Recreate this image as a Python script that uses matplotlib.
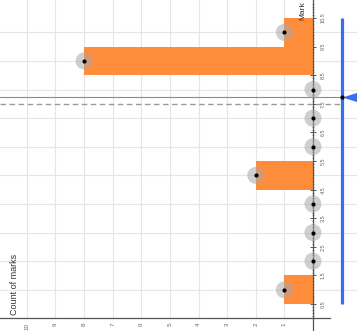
import numpy as np
import matplotlib
matplotlib.use("Agg")
import matplotlib.pyplot as plt

# marks 1..10 and how many students got each one
marks = [1, 2, 3, 4, 5, 6, 7, 8, 9, 10]
counts = [1, 0, 0, 0, 2, 0, 0, 0, 8, 1]
mark_ticks = [0.5, 1.5, 2.5, 3.5, 4.5, 5.5, 6.5, 7.5, 8.5, 9.5, 10.5]
count_ticks = [1, 2, 3, 4, 5, 6, 7, 8, 9, 10]
dashed_mark = 7.5

ORANGE = "#FF8C3A"
BLUE = "#3B6DF2"
GRID = "#e6e6e6"

mean_mark = np.sum(np.array(marks) * np.array(counts)) / np.sum(counts)

plt.rcParams["font.family"] = ["Liberation Sans", "DejaVu Sans"]

fig = plt.figure(figsize=(3.57, 3.31), dpi=100)
ax = fig.add_axes([0, 0, 1, 1])
ax.set_xlim(10.94, -1.54)
ax.set_ylim(-0.44, 11.13)

# grid
for c in count_ticks:
    ax.plot([c, c], [0, 11.13], color=GRID, lw=0.8, zorder=0)
for m in marks:
    ax.axhline(m, color=GRID, lw=0.8, zorder=0)

# bars
ax.barh(marks, counts, height=1, color=ORANGE, edgecolor="none", zorder=2)

# mean and dashed reference line
ax.plot([10.94, -1], [mean_mark, mean_mark], color="#8a8a8a", lw=0.8, zorder=3)
ax.plot([10.94, -1], [dashed_mark, dashed_mark], color="#9a9a9a", lw=1.0,
        ls=(0, (4, 2.5)), zorder=3)

# points
ax.scatter(counts, marks, s=150, color="#a8a8a8", alpha=0.55, edgecolor="none", zorder=4)
ax.scatter(counts, marks, s=4, color="black", zorder=5)

# slider
ax.plot([-1, -1], [mark_ticks[0], mark_ticks[-1]], color=BLUE, lw=2.3,
        solid_capstyle="butt", zorder=4)
tri = [(0, 0), (1.6, 0.5), (1.6, -0.5)]
ax.plot([-1], [mean_mark], marker=tri, markersize=23, color=BLUE,
        markeredgewidth=0, zorder=5)
ax.plot([-1], [mean_mark], "o", markersize=2, color="black", zorder=6)

# axes through the origin
for s in ["top", "left"]:
    ax.spines[s].set_visible(False)
ax.spines["right"].set_position(("data", 0))
ax.spines["bottom"].set_position(("data", 0))
ax.spines["bottom"].set_bounds(10.94, -0.6)
ax.spines["right"].set_color("#555555")
ax.spines["bottom"].set_color("#555555")
ax.spines["right"].set_linewidth(0.9)
ax.spines["bottom"].set_linewidth(0.9)

ax.yaxis.set_ticks_position("right")
ax.set_yticks(mark_ticks)
ax.set_yticklabels([str(t) for t in mark_ticks], rotation=90, va="center",
                   fontsize=4, color="#666666")
ax.set_yticks(np.arange(0, 11.1, 0.1), minor=True)
ax.tick_params(axis="y", which="major", direction="inout", length=5, width=0.7,
               color="#555555", pad=3)
ax.tick_params(axis="y", which="minor", direction="inout", length=2, width=0.4,
               color="#555555")

ax.set_xticks(count_ticks)
ax.set_xticklabels([str(t) for t in count_ticks], rotation=90, ha="center",
                   fontsize=4.5, color="#666666")
ax.tick_params(axis="x", length=0, pad=3)

ax.text(0.35, 10.75, "Mark", rotation=90, fontsize=6, ha="center", va="center",
        color="#333333")
ax.text(10.45, 1.2, "Count of marks", rotation=90, fontsize=6.5, ha="center",
        va="center", color="#333333")

fig.savefig("out.png", dpi=100)
